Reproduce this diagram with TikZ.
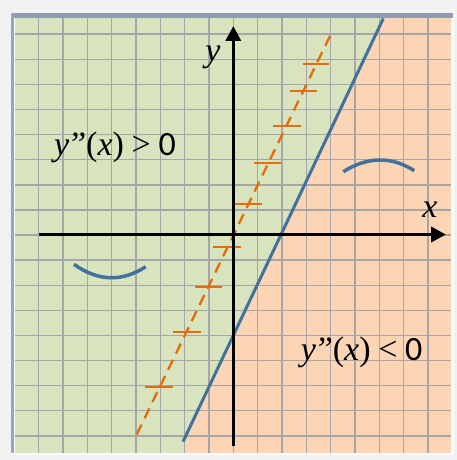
\documentclass[tikz,border=0pt]{standalone}
\usepackage{fontspec}
\setmainfont{Carlito}
\newfontfamily\lserif{Liberation Serif}
\usetikzlibrary{arrows.meta}
\definecolor{bggray}{HTML}{F2F2F2}
\definecolor{greenfill}{HTML}{D7E4BD}
\definecolor{peachfill}{HTML}{FCD5B5}
\definecolor{gridgray}{HTML}{A6A6A6}
\definecolor{topbar}{HTML}{8E9BB0}
\definecolor{leftbar}{HTML}{95A5BD}
\definecolor{blueline}{HTML}{41719C}
\definecolor{orangeline}{HTML}{E46C0A}
\tikzset{
  gridline/.style={draw=gridgray, line width=1.4pt},
  axisline/.style={draw=black, line width=3.5pt, -{Triangle[length=15pt,width=15pt]}},
  boundary/.style={draw=blueline, line width=3pt},
  isocline/.style={draw=orangeline, line width=2.3pt, dash pattern=on 11pt off 7pt},
  tickmark/.style={draw=orangeline, line width=2pt},
  arcline/.style={draw=blueline, line width=3.5pt},
  lbl/.style={inner sep=0pt, font=\fontsize{34}{40}\selectfont},
}
\newcommand{\yx}[2]{{\lserif\itshape y\/\kern-2pt”}{\lserif(}{\lserif\itshape x\/}{\lserif)} {\lserif #1} #2}
\begin{document}
\begin{tikzpicture}[x=1pt,y=-1pt]
\useasboundingbox (0,0) rectangle (457,460);
\fill[bggray] (0,0) rectangle (457,460);
\fill[white] (11,13) rectangle (454,455);
% regions
\fill[greenfill] (15,18) -- (383.3,18) -- (183,441.7) -- (183,453) -- (15,453) -- cycle;
\fill[peachfill] (383.3,18) -- (451,18) -- (451,453) -- (183,453) -- (183,441.7) -- cycle;
% grid
\foreach \gx in {38.5,62.85,87.2,111.55,135.9,160.25,184.6,208.95,233.3,257.65,282.0,306.35,330.7,355.05,379.4,403.75,428.1} {
  \draw[gridline] (\gx,18) -- (\gx,453);
}
\foreach \gy in {34.2,59.3,84.4,109.5,134.6,159.7,184.8,209.9,235.0,260.1,285.2,310.3,335.4,360.5,385.6,410.7,435.8} {
  \draw[gridline] (15,\gy) -- (451,\gy);
}
% frame bars
\fill[topbar] (11,13) rectangle (453,18.5);
\fill[leftbar] (11,13) rectangle (14,453);
% isocline y = 2x (dashed) and slope marks
\coordinate (isoA) at (136.7,434.5);
\coordinate (isoB) at (330.5,35);
\draw[isocline] (isoA) -- (isoB);
\foreach \yy/\xa/\xb in {64/302.7/329.3, 91/290/316.7, 125.7/273.3/300.7, 163.3/254/280.7, 204.3/235/261.7, 247.3/213.3/240.7, 286.7/195/222.3, 332.3/173.3/200.7, 387.3/145/172.7} {
  \draw[tickmark] (\xa,\yy) -- (\xb,\yy);
}
% boundary line y = 2x - 4
\coordinate (bndA) at (183,441.7);
\coordinate (bndB) at (383.3,18.5);
\draw[boundary] (bndA) -- (bndB);
% concavity arcs
\coordinate (arcLa) at (74,264.3);
\coordinate (arcLb) at (145.7,266.7);
\draw[arcline] (arcLa) .. controls (98,281.4) and (121.9,282.2) .. (arcLb);
\coordinate (arcRa) at (343.3,171.7);
\coordinate (arcRb) at (414.3,170.7);
\draw[arcline] (arcRa) .. controls (367.8,156.4) and (391.4,156.1) .. (arcRb);
% axes
\coordinate (xS) at (38.5,234.5);
\coordinate (xE) at (446,234.5);
\coordinate (yS) at (233.3,446);
\coordinate (yE) at (233.3,26);
\draw[axisline] (xS) -- (xE);
\draw[axisline] (yS) -- (yE);
% labels
\node[lbl, anchor=base] (ylab) at (213,62) {\lserif\itshape y};
\node[lbl, anchor=base] (xlab) at (430,217) {\lserif\itshape x};
\node[lbl, anchor=base west] (pos) at (54,155) {\yx{>}{0}};
\node[lbl, anchor=base west] (neg) at (300.7,360) {\yx{<}{0}};
\end{tikzpicture}
\end{document}
